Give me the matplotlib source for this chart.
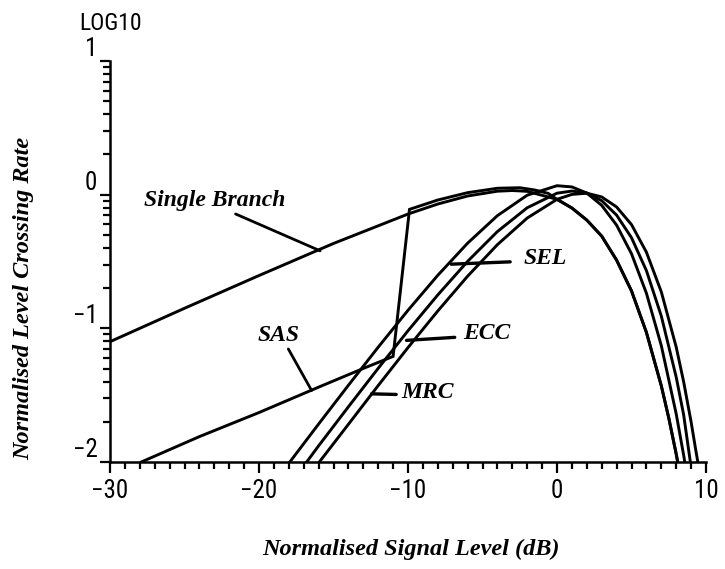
import numpy as np
import matplotlib
matplotlib.use("Agg")
import matplotlib.pyplot as plt
from matplotlib import font_manager

# level crossing rate curves, log10 of normalised rate vs signal level (dB)
single_x = [-30, -25, -20, -15, -10, -8, -6, -4, -3, -2, 0, 1, 2, 3, 4, 5, 6, 7, 7.5, 8.0, 8.1]
single_y = [-1.10, -0.85, -0.605, -0.365, -0.145, -0.07, -0.01, 0.026, 0.031, 0.025, -0.035,
            -0.10, -0.19, -0.31, -0.49, -0.72, -1.03, -1.43, -1.67, -1.94, -2.0]

sas_x = [-27.9, -24, -20, -16, -13, -11.0, -9.9, -8, -6, -4, -2.5, -1.5, -0.6, 0, 1, 2, 3, 4, 5, 6, 7, 7.5, 8.0, 8.1]
sas_y = [-2.0, -1.81, -1.63, -1.44, -1.30, -1.21, -0.11, -0.04, 0.015, 0.048, 0.052, 0.035, 0.01, -0.035,
         -0.10, -0.19, -0.31, -0.49, -0.72, -1.03, -1.43, -1.67, -1.94, -2.0]

sel_x = [-18, -16, -14, -12, -10, -8, -6, -4, -2, 0, 1, 2, 3, 4, 5, 6, 7, 8, 8.5, 8.6]
sel_y = [-2.01, -1.716, -1.426, -1.141, -0.865, -0.603, -0.363, -0.157, -0.004, 0.067, 0.058,
         0.012, -0.080, -0.228, -0.442, -0.737, -1.129, -1.64, -1.949, -2.016]

egc_x = [-16.8, -16, -14, -12, -10, -8, -6, -4, -2, 0, 1, 2, 3, 4, 5, 6, 7, 8, 8.5, 8.95]
egc_y = [-2.0, -1.879, -1.587, -1.299, -1.018, -0.750, -0.499, -0.276, -0.098, 0.011, 0.027,
         0.012, -0.045, -0.153, -0.322, -0.568, -0.908, -1.365, -1.647, -2.0]

mrc_x = [-15.95, -14, -12, -10, -8, -6, -4, -2, 0, 1, 2, 3, 4, 5, 6, 7, 8, 8.5, 9, 9.3, 9.45]
mrc_y = [-2.0, -1.718, -1.428, -1.144, -0.870, -0.610, -0.374, -0.175, -0.035, 0.002, 0.011,
         -0.017, -0.092, -0.224, -0.43, -0.727, -1.14, -1.40, -1.70, -1.902, -2.0]

xticks = [-30, -20, -10, 0, 10]
yticks = [-2, -1, 0, 1]


def pick(names):
    have = {f.name for f in font_manager.fontManager.ttflist}
    for n in names:
        if n in have:
            return n
    return "DejaVu Sans"


tick_font = pick(["Liberation Sans Narrow", "Roboto Condensed", "Liberation Sans"])
label_font = "Liberation Serif"

fig = plt.figure(figsize=(7.25, 5.69), dpi=100)
ax = fig.add_axes([110 / 725, 1 - 462 / 569, 596 / 725, 401 / 569])

lw = 2.1
for xs, ys in [(single_x, single_y), (sas_x, sas_y), (sel_x, sel_y), (egc_x, egc_y), (mrc_x, mrc_y)]:
    ax.plot(xs, ys, color="black", lw=lw, solid_joinstyle="miter")

ax.set_xlim(-30, 10)
ax.set_ylim(-2, 1)
for s in ["top", "right"]:
    ax.spines[s].set_visible(False)
for s in ["left", "bottom"]:
    ax.spines[s].set_linewidth(1.8)

ax.set_xticks(xticks)
ax.set_xticklabels([str(v).replace("-", "\u2212") for v in xticks])
ax.set_xticks(np.arange(-30, 11, 1), minor=True)
ax.set_yticks(yticks)
ax.set_yticklabels([str(v).replace("-", "\u2212") for v in yticks])
ax.set_yticks([n + np.log10(k) for n in (-2, -1, 0) for k in range(2, 10)], minor=True)

ax.tick_params(which="both", direction="out", width=1.6, labelsize=18, pad=4)
ax.tick_params(axis="x", which="major", length=8)
ax.tick_params(axis="x", which="minor", length=5)
ax.tick_params(axis="y", which="major", length=7, pad=2)
ax.tick_params(axis="y", which="minor", length=5)
for lab in ax.get_xticklabels() + ax.get_yticklabels():
    lab.set_fontfamily(tick_font)
for lab in ax.get_yticklabels():
    lab.set_verticalalignment("bottom")

fig.text(111 / 725, 1 - 23 / 569, "LOG10", ha="center", va="center",
         fontsize=17, family=tick_font)

lab_kw = dict(family=label_font, style="italic", weight="bold", fontsize=17.5)
fig.text(411 / 725, 1 - 549 / 569, "Normalised Signal Level (dB)", ha="center", va="center", **lab_kw)
fig.text(24 / 725, 1 - 298 / 569, "Normalised Level Crossing Rate", ha="center", va="center",
         rotation=90, **lab_kw)

ann_kw = dict(family=label_font, style="italic", weight="bold", fontsize=17)
line_kw = dict(arrowstyle="-", color="black", lw=2.0, shrinkA=0, shrinkB=0)

ax.annotate("Single Branch", xy=(-15.9, -0.42), xytext=(-22.95, -0.045),
            ha="center", va="center", arrowprops=dict(relpos=(0.6, 0.0), **line_kw), **ann_kw)
ax.annotate("SAS", xy=(-16.47, -1.465), xytext=(-18.7, -1.055),
            ha="center", va="center", arrowprops=dict(relpos=(0.7, 0.0), **line_kw), **ann_kw)
ax.annotate("SEL", xy=(-7.1, -0.52), xytext=(-0.76, -0.475),
            ha="center", va="center",
            arrowprops=dict(relpos=(0.0, 0.35), shrinkA=8, shrinkB=0, arrowstyle="-", color="black", lw=2.4),
            **ann_kw)
ax.annotate("ECC", xy=(-10.1, -1.09), xytext=(-4.72, -1.04),
            ha="center", va="center",
            arrowprops=dict(relpos=(0.0, 0.35), shrinkA=4, shrinkB=0, arrowstyle="-", color="black", lw=2.4),
            **ann_kw)
ax.annotate("MRC", xy=(-12.45, -1.49), xytext=(-8.66, -1.48),
            ha="center", va="center",
            arrowprops=dict(relpos=(0.0, 0.4), shrinkA=2, shrinkB=0, arrowstyle="-", color="black", lw=2.4),
            **ann_kw)

fig.savefig("out.png", dpi=100)
